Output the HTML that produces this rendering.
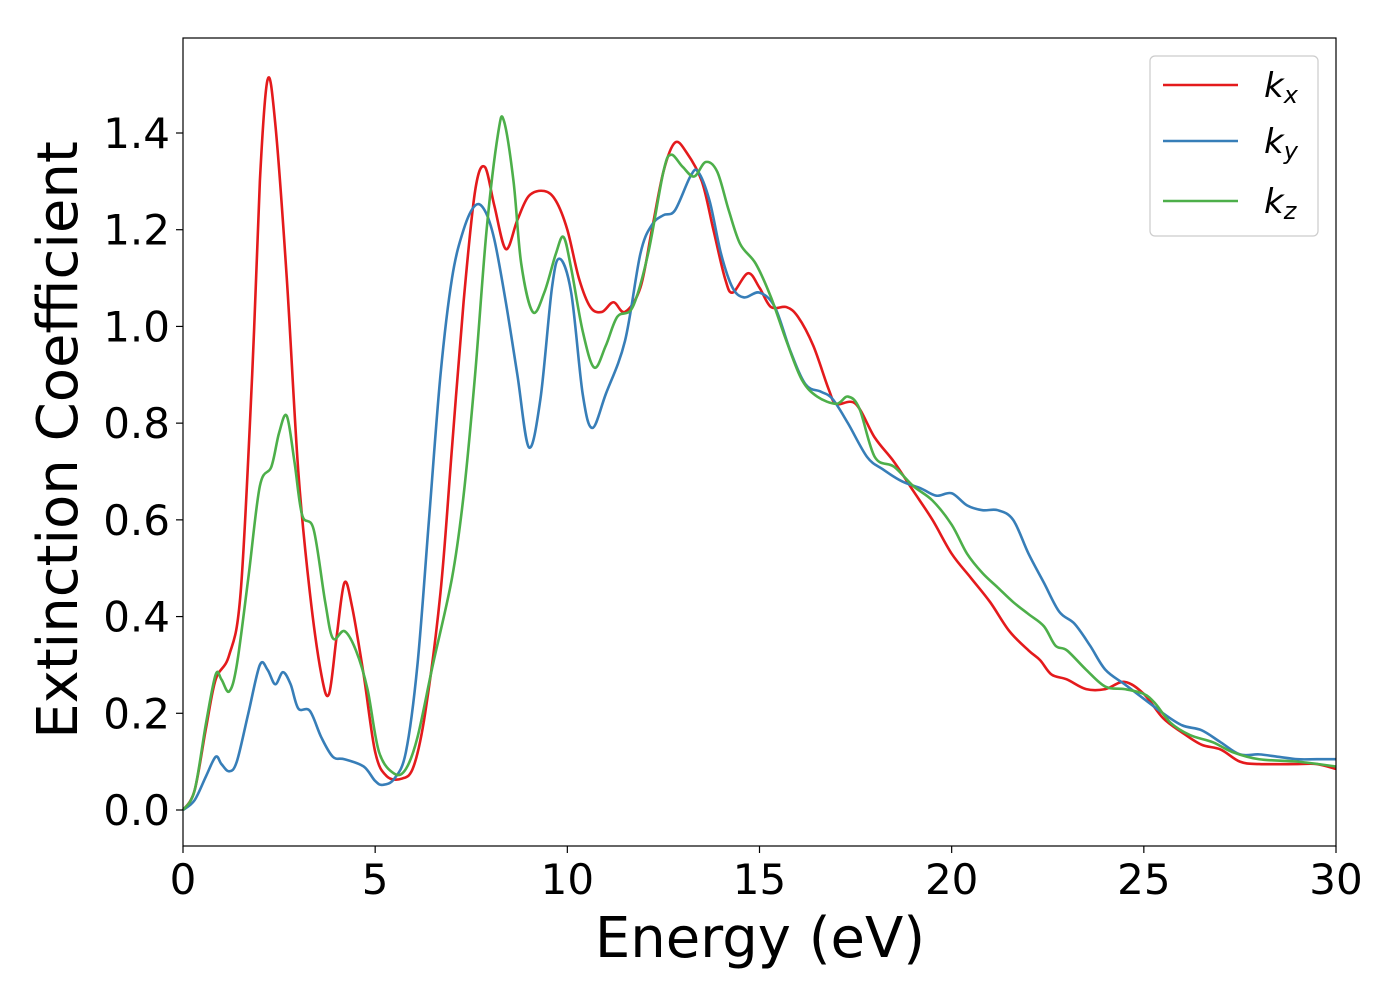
<!DOCTYPE html>
<html><head><meta charset="utf-8"><style>
body{margin:0;background:#fff;}
svg{display:block;font-family:"DejaVu Sans","Liberation Sans",sans-serif;}
</style></head><body>
<svg id="chart" width="1400" height="1000" xmlns="http://www.w3.org/2000/svg">
<rect x="0" y="0" width="1400" height="1000" fill="#fff"/>
<g id="series"></g>
<g id="axes"></g>
<rect x="183" y="38" width="1153" height="808" fill="none" stroke="#000" stroke-width="1.2"/>
<text x="760" y="957" font-size="56" text-anchor="middle">Energy (eV)</text>
<text transform="translate(77,440) rotate(-90)" font-size="56" text-anchor="middle">Extinction Coefficient</text>
<g>
<rect x="1150" y="56" width="168" height="180" rx="5" fill="#fff" fill-opacity="0.8" stroke="#ccc" stroke-width="1.2"/>
<line x1="1163" y1="85" x2="1238" y2="85" stroke="#e41a1c" stroke-width="2.6"/>
<text x="1264" y="97" font-size="34" font-style="italic">k<tspan font-size="24" dy="6">x</tspan></text>
<line x1="1163" y1="141" x2="1238" y2="141" stroke="#377eb8" stroke-width="2.6"/>
<text x="1264" y="153" font-size="34" font-style="italic">k<tspan font-size="24" dy="6">y</tspan></text>
<line x1="1163" y1="201" x2="1238" y2="201" stroke="#4daf4a" stroke-width="2.6"/>
<text x="1264" y="213" font-size="34" font-style="italic">k<tspan font-size="24" dy="6">z</tspan></text>
</g>
</svg>
<script>
const xTicks=[0,5,10,15,20,25,30];
const yTicks=[0.0,0.2,0.4,0.6,0.8,1.0,1.2,1.4];
const xTickLabels=["0","5","10","15","20","25","30"];
const yTickLabels=["0.0","0.2","0.4","0.6","0.8","1.0","1.2","1.4"];
const kxE=[0,0.3,0.6,0.85,1.2,1.5,1.8,2.0,2.2,2.4,2.7,3.0,3.3,3.6,3.8,4.0,4.2,4.4,4.7,5.0,5.3,5.7,6.0,6.3,6.7,7.0,7.3,7.6,7.85,8.1,8.4,8.7,9.0,9.4,9.7,10.0,10.3,10.6,10.9,11.2,11.5,11.9,12.2,12.5,12.8,13.1,13.5,13.8,14.1,14.3,14.7,15.0,15.3,15.7,16.0,16.4,16.8,17.0,17.5,18.0,18.5,19.0,19.5,20.0,20.5,21.0,21.5,22.0,22.3,22.6,23.0,23.5,24.0,24.5,25.0,25.5,26.0,26.5,27.0,27.5,28.0,29.0,29.5,30];
const kxV=[0,0.04,0.17,0.27,0.32,0.45,0.9,1.3,1.51,1.42,1.1,0.7,0.45,0.28,0.24,0.36,0.47,0.42,0.28,0.12,0.07,0.065,0.09,0.2,0.45,0.75,1.05,1.28,1.33,1.25,1.16,1.22,1.27,1.28,1.26,1.2,1.1,1.04,1.03,1.05,1.03,1.08,1.2,1.32,1.38,1.36,1.3,1.2,1.1,1.07,1.11,1.08,1.04,1.04,1.02,0.96,0.87,0.84,0.84,0.77,0.72,0.66,0.6,0.53,0.48,0.43,0.37,0.33,0.31,0.28,0.27,0.25,0.25,0.265,0.24,0.19,0.16,0.135,0.125,0.1,0.095,0.095,0.095,0.085];
const kyE=[0,0.3,0.6,0.85,1.0,1.2,1.4,1.7,2.0,2.2,2.4,2.6,2.8,3.0,3.3,3.6,3.9,4.2,4.7,5.0,5.2,5.5,5.8,6.1,6.4,6.7,7.0,7.3,7.6,7.85,8.1,8.4,8.7,9.0,9.3,9.6,9.8,10.1,10.4,10.65,11.0,11.5,11.9,12.2,12.5,12.8,13.2,13.4,13.7,14.0,14.3,14.6,15.0,15.4,15.8,16.2,16.6,16.9,17.3,17.8,18.2,18.7,19.2,19.6,20.0,20.4,20.8,21.2,21.6,22.0,22.4,22.8,23.2,23.6,24.0,24.5,25.0,25.5,26.0,26.5,27.0,27.5,28.0,28.5,29.0,29.5,30];
const kyV=[0,0.02,0.07,0.11,0.095,0.08,0.1,0.2,0.3,0.29,0.26,0.285,0.26,0.21,0.205,0.15,0.11,0.105,0.09,0.06,0.052,0.065,0.12,0.3,0.6,0.9,1.1,1.2,1.25,1.24,1.18,1.05,0.9,0.75,0.85,1.08,1.14,1.07,0.86,0.79,0.86,0.97,1.15,1.21,1.23,1.24,1.31,1.32,1.26,1.15,1.08,1.06,1.07,1.04,0.95,0.88,0.865,0.85,0.8,0.73,0.705,0.68,0.665,0.65,0.655,0.63,0.62,0.62,0.6,0.53,0.47,0.41,0.385,0.34,0.29,0.26,0.23,0.2,0.175,0.165,0.14,0.115,0.115,0.11,0.105,0.105,0.105];
const kzE=[0,0.3,0.6,0.85,1.0,1.2,1.4,1.7,2.0,2.3,2.5,2.7,2.9,3.1,3.4,3.7,3.9,4.2,4.5,4.8,5.1,5.5,5.8,6.1,6.5,7.0,7.3,7.6,7.9,8.2,8.35,8.6,8.8,9.1,9.4,9.7,9.9,10.1,10.4,10.7,11.0,11.3,11.7,12.1,12.5,12.7,13.0,13.3,13.6,13.9,14.2,14.5,14.9,15.3,15.7,16.1,16.5,17.0,17.3,17.6,18.0,18.5,19.0,19.5,20.0,20.4,20.8,21.2,21.6,22.0,22.4,22.7,23.0,23.5,24.0,24.5,25.0,25.3,25.7,26.2,26.8,27.3,28.0,29.0,30];
const kzV=[0,0.04,0.18,0.28,0.27,0.245,0.3,0.48,0.67,0.71,0.78,0.815,0.72,0.61,0.58,0.43,0.355,0.37,0.33,0.25,0.12,0.075,0.085,0.15,0.3,0.48,0.65,0.9,1.2,1.4,1.425,1.3,1.13,1.03,1.07,1.15,1.185,1.12,0.99,0.915,0.96,1.02,1.04,1.15,1.32,1.355,1.33,1.31,1.34,1.32,1.24,1.17,1.13,1.06,0.97,0.89,0.855,0.84,0.855,0.83,0.73,0.71,0.67,0.64,0.59,0.53,0.49,0.46,0.43,0.405,0.38,0.34,0.33,0.29,0.255,0.25,0.24,0.22,0.18,0.155,0.14,0.12,0.105,0.1,0.09];

const NS="http://www.w3.org/2000/svg";
const X0=183,X1=1336,Y0=810,Y14=133;
function xs(v){return X0+(X1-X0)*v/30;}
function ys(v){return Y0-(Y0-Y14)*v/1.4;}
const axes=document.getElementById('axes');
xTicks.forEach((t,i)=>{
  const l=document.createElementNS(NS,'line');
  
  
  l.setAttribute('x1',xs(t));l.setAttribute('x2',xs(t));l.setAttribute('y1',846);l.setAttribute('y2',853);l.setAttribute('stroke','#000');l.setAttribute('stroke-width','1.2');
  axes.appendChild(l);
  const tx=document.createElementNS(NS,'text');
  
  
  tx.setAttribute('x',xs(t));tx.setAttribute('y',894);tx.setAttribute('font-size','42');tx.setAttribute('text-anchor','middle');
  tx.textContent=xTickLabels[i];axes.appendChild(tx);
});
yTicks.forEach((t,i)=>{
  const l=document.createElementNS(NS,'line');
  
  
  l.setAttribute('x1',176);l.setAttribute('x2',183);l.setAttribute('y1',ys(t));l.setAttribute('y2',ys(t));l.setAttribute('stroke','#000');l.setAttribute('stroke-width','1.2');
  axes.appendChild(l);
  const tx=document.createElementNS(NS,'text');
  
  
  tx.setAttribute('x',170);tx.setAttribute('y',ys(t)+15);tx.setAttribute('font-size','42');tx.setAttribute('text-anchor','end');
  tx.textContent=yTickLabels[i];axes.appendChild(tx);
});
function smoothPath(E,V){
  const p=E.map((e,i)=>[xs(e),ys(V[i])]);
  let d='M'+p[0][0]+','+p[0][1];
  for(let i=0;i<p.length-1;i++){
    const a=p[Math.max(0,i-1)],b=p[i],c=p[i+1],e=p[Math.min(p.length-1,i+2)];
    const c1=[b[0]+(c[0]-a[0])/6,b[1]+(c[1]-a[1])/6];
    const c2=[c[0]-(e[0]-b[0])/6,c[1]-(e[1]-b[1])/6];
    d+=' C'+c1.join(',')+' '+c2.join(',')+' '+c.join(',');
  }
  return d;
}
const g=document.getElementById('series');
[[kxE,kxV,'#e41a1c','series-kx'],[kyE,kyV,'#377eb8','series-ky'],[kzE,kzV,'#4daf4a','series-kz']].forEach(s=>{
  const p=document.createElementNS(NS,'path');
  
  
  p.setAttribute('d',smoothPath(s[0],s[1]));p.setAttribute('fill','none');p.setAttribute('stroke',s[2]);p.setAttribute('stroke-width','2.6');
  g.appendChild(p);
});
</script>
</body></html>
